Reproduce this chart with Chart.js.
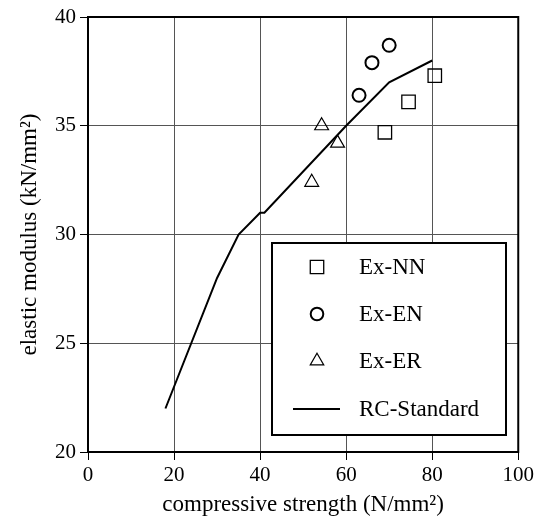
<!DOCTYPE html>
<html>
<head>
<meta charset="utf-8">
<script src="https://cdn.jsdelivr.net/npm/chart.js@4"></script>
<style>
  body { margin: 0; background: #fff; }
  canvas { display: block; }
</style>
</head>
<body>
<canvas id="chart" width="537" height="532"></canvas>
<script>
// data
const nnX = [69.0, 74.5, 80.6];
const nnY = [34.7, 36.1, 37.3];
const enX = [63.0, 66.0, 70.0];
const enY = [36.4, 37.9, 38.7];
const erX = [52.0, 54.3, 58.0];
const erY = [32.4, 35.0, 34.2];
const stdX = [18, 30, 35, 40, 41, 60, 70, 80];
const stdY = [22, 28, 30, 31, 31, 35, 37, 38];

const xTicks = [0, 20, 40, 60, 80, 100];
const yTicks = [20, 25, 30, 35, 40];

const serif = "'Liberation Serif', 'Times New Roman', serif";

function pts(xs, ys) {
    return xs.map((x, i) => ({ x: x, y: ys[i] }));
}

// box round the plot and legend drawn inside it
const framePlugin = {
    id: 'frame',
    afterDraw(chart) {
        const c = chart.ctx;
        const a = chart.chartArea;
        c.save();
        c.strokeStyle = '#000';
        c.lineWidth = 2;
        c.strokeRect(a.left, a.top, a.right - a.left, a.bottom - a.top);

        // legend
        const bx = 272, by = 243, bw = 234, bh = 192;
        c.fillStyle = '#fff';
        c.fillRect(bx, by, bw, bh);
        c.strokeRect(bx, by, bw, bh);
        c.font = '23px ' + serif;
        c.textBaseline = 'middle';
        const rows = [267, 314, 361, 409];
        chart.data.datasets.forEach((ds, i) => {
            const y = rows[i];
            c.strokeStyle = '#000';
            if (ds.showLine) {
                c.lineWidth = 2;
                c.beginPath();
                c.moveTo(293, y);
                c.lineTo(340, y);
                c.stroke();
            } else {
                c.lineWidth = ds.borderWidth;
                c.fillStyle = '#fff';
                Chart.helpers.drawPoint(c, {
                    pointStyle: ds.pointStyle,
                    radius: ds.legendRadius,
                    borderWidth: ds.borderWidth
                }, 317, y);
            }
            c.fillStyle = '#000';
            c.fillText(ds.label, 359, y + 1);
        });
        c.restore();
    }
};

new Chart(document.getElementById('chart'), {
    type: 'scatter',
    data: {
        datasets: [
            {
                label: 'Ex-NN', data: pts(nnX, nnY), pointStyle: 'rect',
                pointRadius: 9.5, legendRadius: 9.5, borderColor: '#000', backgroundColor: 'rgba(0,0,0,0)',
                borderWidth: 1.3
            },
            {
                label: 'Ex-EN', data: pts(enX, enY), pointStyle: 'circle',
                pointRadius: 6.5, legendRadius: 6.3, borderColor: '#000', backgroundColor: 'rgba(0,0,0,0)',
                borderWidth: 2
            },
            {
                label: 'Ex-ER', data: pts(erX, erY), pointStyle: 'triangle',
                pointRadius: 8, legendRadius: 7.8, borderColor: '#000', backgroundColor: 'rgba(0,0,0,0)',
                borderWidth: 1.2
            },
            {
                label: 'RC-Standard', data: pts(stdX, stdY), showLine: true,
                pointRadius: 0, borderColor: '#000', borderWidth: 2, fill: false
            }
        ]
    },
    options: {
        responsive: false,
        animation: false,
        layout: { padding: { top: 17, right: 18, left: 0, bottom: 0 } },
        plugins: {
            legend: { display: false },
            tooltip: { enabled: false }
        },
        scales: {
            x: {
                type: 'linear', min: 0, max: 100,
                afterBuildTicks: s => { s.ticks = xTicks.map(v => ({ value: v })); },
                afterFit: s => { s.height = 80; },
                grid: { color: '#555', lineWidth: 1, tickColor: '#000', tickLength: 8 },
                border: { display: false },
                ticks: { color: '#000', font: { family: serif, size: 21 }, padding: 3, maxRotation: 0 },
                title: {
                    display: true, text: 'compressive strength (N/mm²)', color: '#000',
                    font: { family: serif, size: 23 }, padding: { top: 0, bottom: 13 }
                }
            },
            y: {
                type: 'linear', min: 20, max: 40,
                afterBuildTicks: s => { s.ticks = yTicks.map(v => ({ value: v })); },
                afterFit: s => { s.width = 88; },
                grid: { color: '#555', lineWidth: 1, tickColor: '#000', tickLength: 8 },
                border: { display: false },
                ticks: { color: '#000', font: { family: serif, size: 21 }, padding: 4 },
                title: {
                    display: true, text: 'elastic modulus (kN/mm²)', color: '#000',
                    font: { family: serif, size: 23 }, padding: { top: 16, bottom: 0 }
                }
            }
        }
    },
    plugins: [framePlugin]
});
</script>
</body>
</html>
